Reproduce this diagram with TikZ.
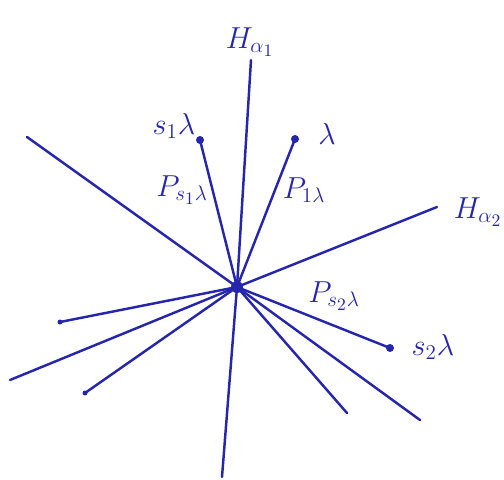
\documentclass[tikz,border=0pt]{standalone}
\definecolor{ink}{RGB}{38,38,172}
\begin{document}
\begin{tikzpicture}[x=0.02cm,y=-0.02cm,ink,line width=1.4pt,line cap=round,
	lbl/.style={font=\LARGE}]
	\useasboundingbox (0,0) rectangle (504,480);
	\coordinate (o) at (237,287);
	\foreach \x/\y/\n in {251/60/h1t,222/477/h1b,437/207/h2t,10/380/h2b,27/137/ul,420/420/lr,347/413/ld,200/140/s1,295/139/l,390/348/s2,60/322/a,85/393/b}\coordinate (\n) at (\x,\y);
	\foreach \n in {h1t,h1b,h2t,h2b,ul,lr,ld,s1,l,s2,a,b}\draw (o)--(\n);
	\foreach \n/\r in {s1/4,l/4,s2/4,a/2.5,b/2.5,o/6}\fill (\n) circle (\r);
	\foreach \x/\y/\gt/\n in {250/42/H_{\alpha_1}/ha1,478/212/H_{\alpha_2}/ha2,174/126/s_1\lambda/ts1,327/134/\lambda/tl,433/347/s_2\lambda/ts2,182/190/P_{s_1\lambda}/ps1,304/190/P_{1\lambda}/pl,334/296/P_{s_2\lambda}/ps2}\path (\x,\y) node[lbl](\n){$\gt$};
\end{tikzpicture}
\end{document}
